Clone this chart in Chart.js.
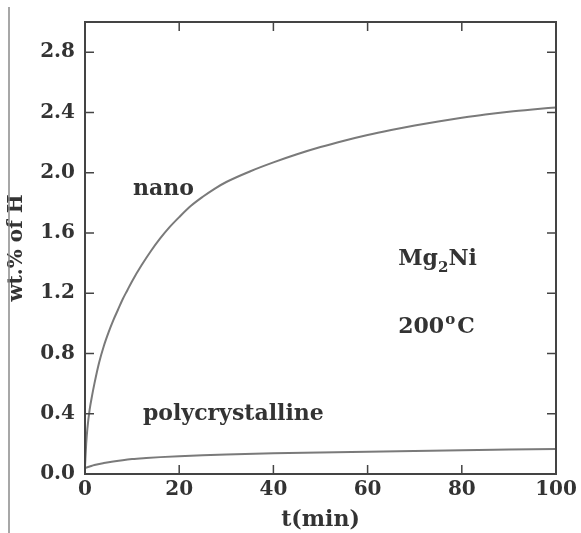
<!DOCTYPE html>
<html>
<head>
<meta charset="utf-8">
<script src="https://cdn.jsdelivr.net/npm/chart.js@4"></script>
<style>
  html, body { margin: 0; padding: 0; background: #fff; }
  canvas { display: block; }
</style>
</head>
<body>
<canvas id="chart" width="581" height="533"></canvas>
<script>
// Mg2Ni hydrogen absorption at 200 °C, nano vs polycrystalline
const nanoTime = [0, 0.25, 0.5, 1, 1.5, 2, 3, 4, 5, 6, 7, 8, 9, 10, 12, 14, 16, 18, 20,
                  22.5, 25, 27.5, 30, 35, 40, 45, 50, 55, 60, 65, 70, 75, 80, 85, 90, 95, 100];
const nanoWt   = [0.05, 0.2, 0.3, 0.43, 0.52, 0.6, 0.74, 0.85, 0.94, 1.02, 1.09, 1.16, 1.22, 1.28,
                  1.385, 1.48, 1.565, 1.64, 1.705, 1.78, 1.84, 1.893, 1.938, 2.008, 2.068, 2.122,
                  2.17, 2.212, 2.25, 2.283, 2.313, 2.34, 2.364, 2.386, 2.405, 2.42, 2.433];

const polyTime = [0, 1, 2, 4, 6, 8, 10, 13, 16, 20, 25, 30, 40, 50, 60, 70, 80, 90, 100];
const polyWt   = [0.04, 0.05, 0.06, 0.073, 0.083, 0.092, 0.099, 0.106, 0.112, 0.118, 0.124,
                  0.129, 0.137, 0.143, 0.148, 0.153, 0.158, 0.162, 0.166];

const xTicks = [0, 20, 40, 60, 80, 100];
const yTicks = [0, 0.4, 0.8, 1.2, 1.6, 2.0, 2.4, 2.8];

const SERIF = '"DejaVu Serif", "Liberation Serif", serif';
const INK = '#333';
const CURVE = '#7a7a7a';

const pts = (xs, ys) => xs.map((x, i) => ({ x, y: ys[i] }));

// frame, inward ticks, in-plot labels and the scan edge line
const framePlugin = {
  id: 'frame',
  afterDraw(chart) {
    const { ctx, chartArea: a, scales: { x, y } } = chart;
    ctx.save();

    // left edge line of the scanned page
    ctx.strokeStyle = '#8a8a8a';
    ctx.lineWidth = 1.5;
    ctx.beginPath();
    ctx.moveTo(9, 7);
    ctx.lineTo(9, chart.height);
    ctx.stroke();

    ctx.strokeStyle = '#444';
    ctx.lineWidth = 2;
    ctx.strokeRect(a.left, a.top, a.right - a.left, a.bottom - a.top);

    const tl = 9;
    ctx.lineWidth = 1.5;
    ctx.beginPath();
    xTicks.slice(1, -1).forEach(v => {
      const px = x.getPixelForValue(v);
      ctx.moveTo(px, a.bottom); ctx.lineTo(px, a.bottom - tl);
      ctx.moveTo(px, a.top);    ctx.lineTo(px, a.top + tl);
    });
    yTicks.slice(1).forEach(v => {
      const py = y.getPixelForValue(v);
      ctx.moveTo(a.left, py);  ctx.lineTo(a.left + tl, py);
      ctx.moveTo(a.right, py); ctx.lineTo(a.right - tl, py);
    });
    ctx.stroke();

    // text inside the plot
    ctx.fillStyle = INK;
    ctx.textBaseline = 'alphabetic';
    ctx.textAlign = 'left';
    const big = 'bold 22px ' + SERIF;
    const small = 'bold 15px ' + SERIF;
    ctx.font = big;
    ctx.fillText('nano', x.getPixelForValue(10.2), y.getPixelForValue(1.85));
    ctx.fillText('polycrystalline', x.getPixelForValue(12.3), y.getPixelForValue(0.356));

    // Mg2Ni
    let px = x.getPixelForValue(66.5);
    let py = y.getPixelForValue(1.39);
    ctx.fillText('Mg', px, py);
    px += ctx.measureText('Mg').width;
    ctx.font = small;
    ctx.fillText('2', px, py + 7);
    px += ctx.measureText('2').width;
    ctx.font = big;
    ctx.fillText('Ni', px, py);

    // 200°C
    px = x.getPixelForValue(66.5);
    py = y.getPixelForValue(0.935);
    ctx.fillText('200', px, py);
    px += ctx.measureText('200').width + 1;
    ctx.font = small;
    ctx.fillText('o', px, py - 9);
    px += ctx.measureText('o').width + 2;
    ctx.font = big;
    ctx.fillText('C', px, py);

    ctx.restore();
  }
};

new Chart(document.getElementById('chart'), {
  type: 'scatter',
  data: {
    datasets: [
      {
        label: 'nano',
        data: pts(nanoTime, nanoWt),
        showLine: true,
        borderColor: CURVE,
        borderWidth: 2,
        pointRadius: 0,
        cubicInterpolationMode: 'monotone'
      },
      {
        label: 'polycrystalline',
        data: pts(polyTime, polyWt),
        showLine: true,
        borderColor: CURVE,
        borderWidth: 2,
        pointRadius: 0,
        cubicInterpolationMode: 'monotone'
      }
    ]
  },
  options: {
    responsive: false,
    animation: false,
    events: [],
    layout: { padding: { top: 19, right: 25, left: 0, bottom: 0 } },
    plugins: { legend: { display: false }, tooltip: { enabled: false } },
    scales: {
      x: {
        type: 'linear',
        min: 0,
        max: 100,
        afterBuildTicks: s => { s.ticks = xTicks.map(v => ({ value: v })); },
        afterFit: s => { s.height = 59; },
        grid: { display: false, drawTicks: false },
        border: { display: false },
        ticks: {
          padding: 4,
          color: INK,
          font: { family: SERIF, weight: 'bold', size: 20 },
          maxRotation: 0
        },
        title: {
          display: true,
          text: 't(min)',
          color: INK,
          font: { family: SERIF, weight: 'bold', size: 22 },
          padding: { top: 0, bottom: 0 }
        }
      },
      y: {
        type: 'linear',
        min: 0,
        max: 3.0,
        afterBuildTicks: s => { s.ticks = yTicks.map(v => ({ value: v })); },
        afterFit: s => { s.width = 85; },
        grid: { display: false, drawTicks: false },
        border: { display: false },
        ticks: {
          padding: 10,
          color: INK,
          font: { family: SERIF, weight: 'bold', size: 20 },
          callback: v => v.toFixed(1)
        },
        title: {
          display: true,
          text: 'wt.% of H',
          color: INK,
          font: { family: SERIF, weight: 'bold', size: 20 },
          padding: { top: 5, bottom: 0 }
        }
      }
    }
  },
  plugins: [framePlugin]
});
</script>
</body>
</html>
